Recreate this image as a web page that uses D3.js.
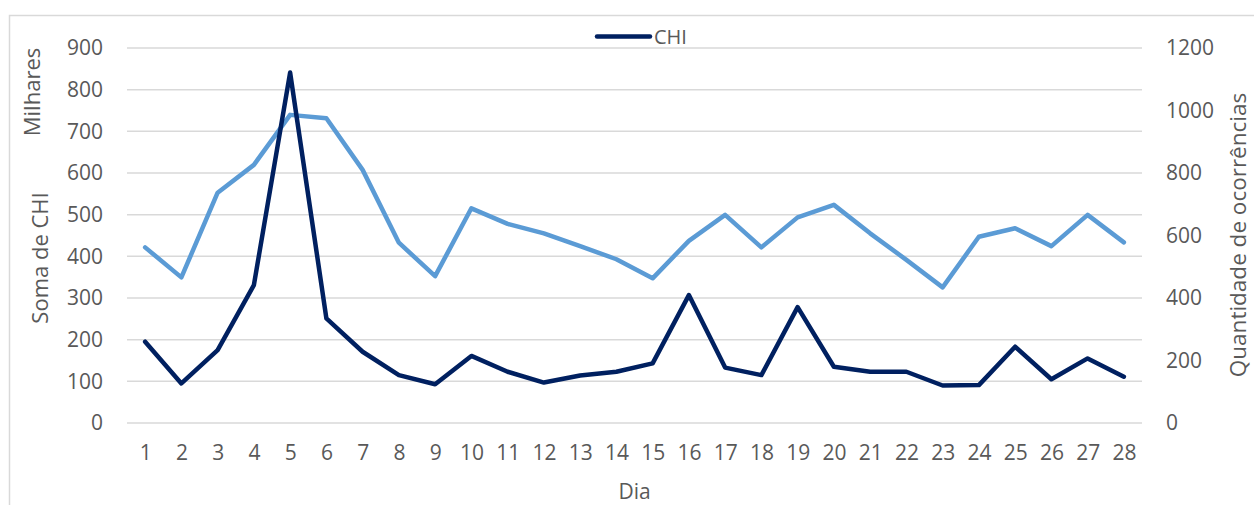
<!DOCTYPE html>
<html>
<head>
<meta charset="utf-8">
<script src="https://cdn.jsdelivr.net/npm/d3@7"></script>
<style>
  html, body { margin: 0; padding: 0; background: #fff; }
  svg text { font-family: "Open Sans", sans-serif; fill: #595959; }
</style>
</head>
<body>
<svg id="chart" width="1254" height="505"></svg>
<script>
const days = d3.range(1, 29).map(String);
const chiThousands = [195, 95, 175, 331, 841, 251, 171, 115, 93, 161, 123, 97, 114, 123, 143, 307, 133, 115, 278, 135, 123, 123, 90, 91, 183, 105, 155, 111];
const occurrences = [562, 466, 737, 826, 986, 975, 810, 577, 470, 687, 637, 607, 566, 524, 463, 583, 666, 562, 658, 698, 607, 522, 434, 596, 623, 566, 666, 578];
const leftTicks = [0, 100, 200, 300, 400, 500, 600, 700, 800, 900];
const rightTicks = [0, 200, 400, 600, 800, 1000, 1200];
const legendLabel = "CHI";
const xTitle = "Dia";
const leftTitleTop = "Milhares";
const leftTitle = "Soma de CHI";
const rightTitle = "Quantidade de ocorrências";

const svg = d3.select("#chart");
const plot = { left: 127, right: 1142, top: 48, bottom: 423 };

// chart border
svg.append("path")
  .attr("d", `M9.5,510 V15.5 H1260`)
  .attr("fill", "none").attr("stroke", "#d9d9d9").attr("stroke-width", 1.5);

const x = d3.scalePoint().domain(days).range([plot.left, plot.right]).padding(0.5);
const yL = d3.scaleLinear().domain([0, 900]).range([plot.bottom, plot.top]);
const yR = d3.scaleLinear().domain([0, 1200]).range([plot.bottom, plot.top]);

// gridlines
svg.append("g").selectAll("line").data(leftTicks).join("line")
  .attr("x1", plot.left).attr("x2", plot.right)
  .attr("y1", d => yL(d)).attr("y2", d => yL(d))
  .attr("stroke", "#d9d9d9").attr("stroke-width", 1.5);

// left axis
const gL = svg.append("g").attr("transform", `translate(${plot.left},0)`)
  .call(d3.axisLeft(yL).tickValues(leftTicks).tickFormat(d3.format("d")).tickSize(0).tickPadding(24));
gL.select(".domain").remove();
gL.selectAll("text").style("font-size", "21px").attr("fill", "#595959");

// right axis
const gR = svg.append("g").attr("transform", `translate(${plot.right},0)`)
  .call(d3.axisRight(yR).tickValues(rightTicks).tickFormat(d3.format("d")).tickSize(0).tickPadding(24));
gR.select(".domain").remove();
gR.selectAll("text").style("font-size", "21px").attr("fill", "#595959");

// bottom axis
const gB = svg.append("g").attr("transform", `translate(0,${plot.bottom})`)
  .call(d3.axisBottom(x).tickSize(0).tickPadding(22));
gB.select(".domain").remove();
gB.selectAll("text").style("font-size", "21px").attr("fill", "#595959");

// titles
svg.append("text").attr("x", (plot.left + plot.right) / 2).attr("y", 499)
  .attr("text-anchor", "middle").style("font-size", "21px").text(xTitle);
svg.append("text").attr("transform", "translate(40,92) rotate(-90)")
  .attr("text-anchor", "middle").style("font-size", "22px").text(leftTitleTop);
svg.append("text").attr("transform", "translate(48,258) rotate(-90)")
  .attr("text-anchor", "middle").style("font-size", "22px").text(leftTitle);
svg.append("text").attr("transform", "translate(1246,235) rotate(-90)")
  .attr("text-anchor", "middle").style("font-size", "22.5px").text(rightTitle);

// lines
const lineR = d3.line().x((d, i) => x(days[i])).y(d => yR(d));
const lineL = d3.line().x((d, i) => x(days[i])).y(d => yL(d));
svg.append("path").datum(occurrences).attr("d", lineR)
  .attr("fill", "none").attr("stroke", "#5b9bd5").attr("stroke-width", 4.5)
  .attr("stroke-linejoin", "round").attr("stroke-linecap", "round");
svg.append("path").datum(chiThousands).attr("d", lineL)
  .attr("fill", "none").attr("stroke", "#002060").attr("stroke-width", 4.5)
  .attr("stroke-linejoin", "round").attr("stroke-linecap", "round");

// legend
const lg = svg.append("g");
lg.append("line").attr("x1", 597).attr("x2", 650).attr("y1", 36.5).attr("y2", 36.5)
  .attr("stroke", "#002060").attr("stroke-width", 4.5).attr("stroke-linecap", "round");
lg.append("text").attr("x", 654).attr("y", 44).style("font-size", "20px").text(legendLabel);
</script>
</body>
</html>
